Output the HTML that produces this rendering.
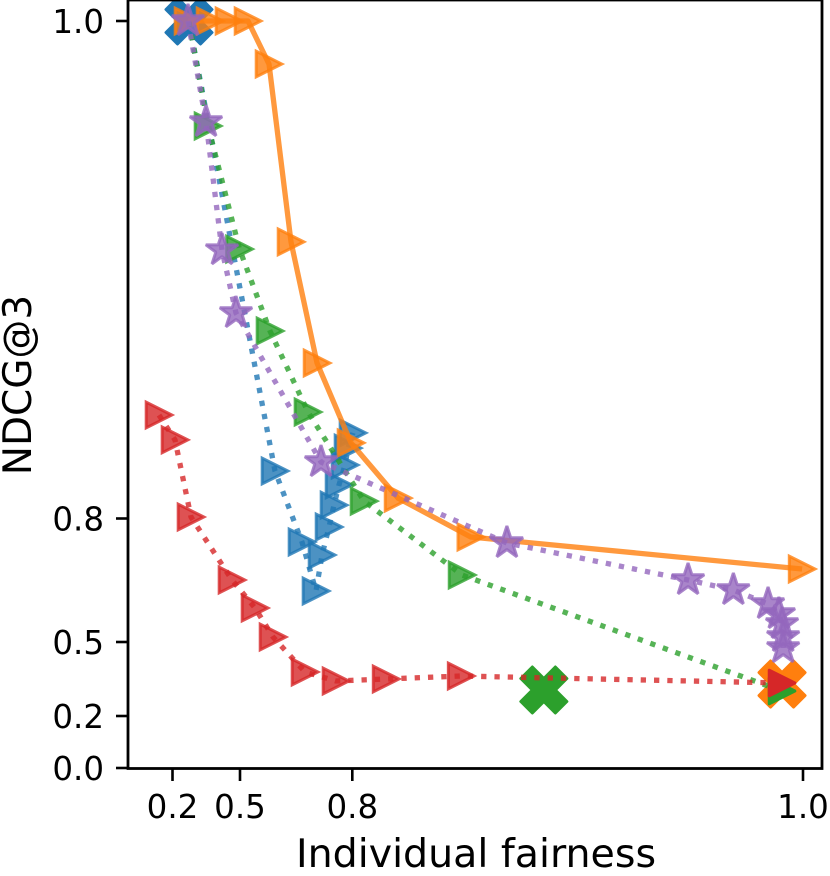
<!DOCTYPE html>
<html>
<head>
<meta charset="utf-8">
<title>NDCG@3 vs Individual fairness</title>
<style>
html,body{margin:0;padding:0;background:#fff;}
svg{display:block;}
text{font-family:"DejaVu Sans","Liberation Sans",sans-serif;fill:#000;}
</style>
</head>
<body>
<svg id="chart" xmlns="http://www.w3.org/2000/svg" width="830" height="876" viewBox="0 0 830 876"></svg>
<script>
// Axis tick labels and values
const xTicks = [0.2, 0.5, 0.8, 1.0];
const yTicks = [0.0, 0.2, 0.5, 0.8, 1.0];
const xLabel = 'Individual fairness';
const yLabel = 'NDCG@3';

// Series values
const blueX = [0.2733, 0.5935, 0.6656, 0.7030, 0.7191, 0.7378, 0.7511, 0.7645, 0.7805, 0.7885, 0.8003];
const blueY = [0.9996, 0.8191, 0.7429, 0.6239, 0.7113, 0.7793, 0.8054, 0.8135, 0.8215, 0.8283, 0.8344];
const orangeX = [0.2689, 0.3667, 0.4511, 0.5214, 0.5775, 0.6363, 0.7058, 0.7965, 0.8203, 0.8526, 0.9996];
const orangeY = [1.0, 1.0, 1.0, 1.0, 0.9827, 0.9112, 0.8625, 0.8304, 0.8082, 0.7550, 0.6773];
const greenX = [0.2733, 0.3578, 0.4978, 0.5801, 0.6816, 0.8052, 0.8487, 0.9907];
const greenY = [0.9996, 0.9578, 0.9083, 0.8754, 0.8428, 0.8070, 0.6627, 0.3013];
const redX = [0.14, 0.2111, 0.2822, 0.4644, 0.5401, 0.5882, 0.6737, 0.7565, 0.8150, 0.8483, 0.9907];
const redY = [0.8416, 0.8316, 0.8006, 0.6506, 0.5826, 0.5121, 0.3784, 0.3419, 0.3500, 0.3621, 0.3338];
const purpleX = [0.2689, 0.3489, 0.42, 0.4822, 0.7164, 0.8686, 0.9490, 0.9691, 0.9845, 0.9893, 0.9907, 0.9912, 0.9912];
const purpleY = [1.0, 0.9594, 0.9079, 0.8826, 0.8227, 0.7405, 0.6506, 0.6263, 0.5923, 0.5680, 0.5437, 0.5121, 0.4756];

// Highlighted single points
const blueCrossX = 0.2733, blueCrossY = 1.0;
const orangeCrossX = 0.9907, orangeCrossY = 0.3297;
const greenCrossX = 0.8850, greenCrossY = 0.3054;
const greenEndX = 0.9907, greenEndY = 0.3013;
const redEndX = 0.9907, redEndY = 0.3338;

const NS = 'http://www.w3.org/2000/svg';
const svg = document.getElementById('chart');
const BLUE = '#1f77b4', ORANGE = '#ff7f0e', GREEN = '#2ca02c', RED = '#d62728', PURPLE = '#9467bd';

// Non-linear axis functions: piecewise-linear through the tick anchors
function interp(v, dom, rng) {
  let i = 0;
  while (i < dom.length - 2 && v > dom[i + 1]) i++;
  return rng[i] + (v - dom[i]) * (rng[i + 1] - rng[i]) / (dom[i + 1] - dom[i]);
}
function sx(v) { return interp(v, [0.2, 0.5, 0.8, 1.0], [172.5, 240, 352.3, 803]); }
function sy(v) { return interp(v, [0.0, 0.2, 0.5, 0.8, 1.0], [768, 716, 642, 518.5, 21]); }

function make(tag, attrs, parent) {
  const el = document.createElementNS(NS, tag);
  for (const k in attrs) el.setAttribute(k, attrs[k]);
  (parent || svg).appendChild(el);
  return el;
}

function drawLine(xs, ys, color, dotted, name) {
  const pts = xs.map((x, i) => sx(x) + ',' + sy(ys[i])).join(' ');
  const el = make('polyline', {points: pts, fill: 'none', stroke: color, 'stroke-width': 5.3,
    'stroke-opacity': 0.8, 'stroke-linejoin': 'round', 'stroke-dasharray': dotted ? '5.3 8' : 'none'});
  
  
}
function triPath(cx, cy) {
  const r = 12.8;
  return 'M' + (cx + r) + ' ' + cy + 'L' + (cx - r) + ' ' + (cy - r) + 'L' + (cx - r) + ' ' + (cy + r) + 'Z';
}
function starPath(cx, cy) {
  const R = 17, q = R * 0.381966;
  let d = '';
  for (let i = 0; i < 10; i++) {
    const a = -Math.PI / 2 + i * Math.PI / 5, m = i % 2 ? q : R;
    d += (i ? 'L' : 'M') + (cx + m * Math.cos(a)) + ' ' + (cy + m * Math.sin(a));
  }
  return d + 'Z';
}
function crossPath(cx, cy) {
  const u = 11.5;
  const v = [[-1,-2],[0,-1],[1,-2],[2,-1],[1,0],[2,1],[1,2],[0,1],[-1,2],[-2,1],[-1,0],[-2,-1]];
  return v.map((p, i) => (i ? 'L' : 'M') + (cx + p[0] * u) + ' ' + (cy + p[1] * u)).join('') + 'Z';
}
function drawMarkers(xs, ys, color, shape, join, name) {
  xs.forEach((x, i) => {
    const el = make('path', {d: shape(sx(x), sy(ys[i])), fill: color, stroke: color, 'stroke-width': 3,
      'fill-opacity': 0.8, 'stroke-opacity': 0.8, 'stroke-linejoin': join});
    
    
  });
}
function drawSolid(x, y, color, shape, name) {
  const el = make('path', {d: shape(sx(x), sy(y)), fill: color, stroke: color, 'stroke-width': 3, 'stroke-linejoin': 'round'});
  
  
}

drawSolid(blueCrossX, blueCrossY, BLUE, crossPath, 'blue-cross-marker');
drawSolid(orangeCrossX, orangeCrossY, ORANGE, crossPath, 'orange-cross-marker');
drawSolid(greenCrossX, greenCrossY, GREEN, crossPath, 'green-cross-marker');

drawLine(blueX, blueY, BLUE, true, 'blue-series-line');
drawMarkers(blueX, blueY, BLUE, triPath, 'miter', 'blue-series-point');
drawLine(orangeX, orangeY, ORANGE, false, 'orange-series-line');
drawMarkers(orangeX, orangeY, ORANGE, triPath, 'miter', 'orange-series-point');
drawLine(greenX, greenY, GREEN, true, 'green-series-line');
drawMarkers(greenX.slice(1, -1), greenY.slice(1, -1), GREEN, triPath, 'miter', 'green-series-point');
drawLine(redX, redY, RED, true, 'red-series-line');
drawMarkers(redX.slice(0, -1), redY.slice(0, -1), RED, triPath, 'miter', 'red-series-point');
drawLine(purpleX, purpleY, PURPLE, true, 'purple-series-line');
drawMarkers(purpleX, purpleY, PURPLE, starPath, 'bevel', 'purple-series-point');

drawSolid(greenEndX, greenEndY, GREEN, triPath, 'green-end-marker');
drawSolid(redEndX, redEndY, RED, triPath, 'red-end-marker');

// Spines
const frame = make('rect', {x: 128, y: 0, width: 694, height: 768.5, fill: 'none', stroke: '#000', 'stroke-width': 2.8});



// Ticks and tick labels
xTicks.forEach(t => {
  const px = sx(t);
  const tick = make('line', {x1: px, x2: px, y1: 768, y2: 781, stroke: '#000', 'stroke-width': 2.6});
  
  
  const lab = make('text', {x: px, y: 818, 'text-anchor': 'middle', 'font-size': 32.5});
  
  
  lab.textContent = t.toFixed(1);
});
yTicks.forEach(t => {
  const py = sy(t);
  const tick = make('line', {x1: 116, x2: 128, y1: py, y2: py, stroke: '#000', 'stroke-width': 2.6});
  
  
  const lab = make('text', {x: 104, y: py + 12, 'text-anchor': 'end', 'font-size': 32.5});
  
  
  lab.textContent = t.toFixed(1);
});

// Axis titles
const xt = make('text', {x: 476, y: 867, 'text-anchor': 'middle', 'font-size': 39.5});


xt.textContent = xLabel;
const yt = make('text', {x: 0, y: 0, 'text-anchor': 'middle', 'font-size': 39, transform: 'translate(31,385) rotate(-90)'});


yt.textContent = yLabel;
</script>
</body>
</html>
